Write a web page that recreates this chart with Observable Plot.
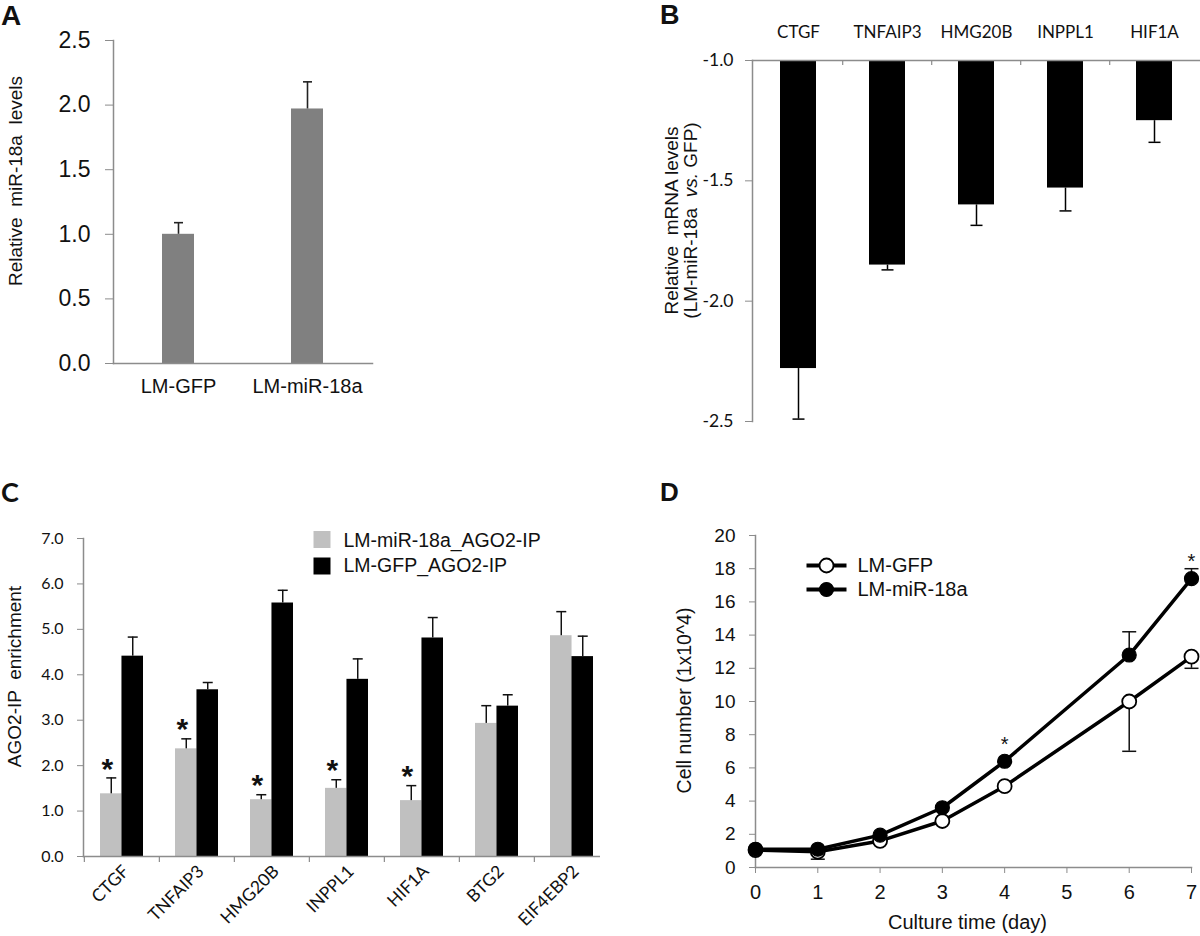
<!DOCTYPE html>
<html><head><meta charset="utf-8">
<script src="https://cdn.jsdelivr.net/npm/d3@7"></script>
<script src="https://cdn.jsdelivr.net/npm/@observablehq/plot@0.6"></script>
<style>
html,body{margin:0;padding:0;background:#fff;}
#fig{position:relative;width:1200px;height:936px;overflow:hidden;background:#fff;}
.panel{position:absolute;width:600px;}
.letter{position:absolute;font-weight:bold;line-height:1.15;color:#111;}
</style></head><body>
<div id="fig">
  <div class="panel" id="pA" style="left:0;top:0"></div>
  <div class="panel" id="pB" style="left:600px;top:0"></div>
  <div class="panel" id="pC" style="left:0;top:440px"></div>
  <div class="panel" id="pD" style="left:600px;top:440px"></div>
  <div class="letter" style="left:1px;top:0px;font-size:28px;font-family:'Liberation Sans',Arial,sans-serif">A</div>
  <div class="letter" style="left:660px;top:0px;font-size:27px;font-family:'Liberation Sans',Arial,sans-serif">B</div>
  <div class="letter" style="left:1px;top:476px;font-size:27px;font-family:Lato,sans-serif">C</div>
  <div class="letter" style="left:660px;top:478px;font-size:26px;font-family:'Liberation Sans',Arial,sans-serif">D</div>
</div>
<script>
// ---------------- DATA ----------------
// Panel A
const aGroups = ["LM-GFP", "LM-miR-18a"];
const aMeans = [1.00, 1.97];
const aErrs = [0.09, 0.21];
const aTicks = [0, 0.5, 1.0, 1.5, 2.0, 2.5];
const aTitle = "Relative  miR-18a  levels";

// Panel B
const bGenes = ["CTGF", "TNFAIP3", "HMG20B", "INPPL1", "HIF1A"];
const bMeans = [-2.28, -1.85, -1.60, -1.53, -1.25];
const bErrs = [0.21, 0.02, 0.085, 0.095, 0.09];
const bBase = -1.0;
const bTicks = [-1.0, -1.5, -2.0, -2.5];
const bTitle1 = "Relative  mRNA levels";
const bTitle2 = "(LM-miR-18a  vs. GFP)";

// Panel C
const cGenes = ["CTGF", "TNFAIP3", "HMG20B", "INPPL1", "HIF1A", "BTG2", "EIF4EBP2"];
const cSeries = ["LM-miR-18a_AGO2-IP", "LM-GFP_AGO2-IP"];
const cMir = [1.38, 2.37, 1.25, 1.50, 1.23, 2.93, 4.86];
const cMirErr = [0.35, 0.22, 0.11, 0.19, 0.33, 0.39, 0.53];
const cGfp = [4.41, 3.67, 5.58, 3.90, 4.81, 3.31, 4.40];
const cGfpErr = [0.42, 0.16, 0.28, 0.45, 0.45, 0.25, 0.45];
const cSig = [true, true, true, true, true, false, false];
const cTicks = [0, 1, 2, 3, 4, 5, 6, 7];
const cTitle = "AGO2-IP  enrichment";

// Panel D
const dSeries = ["LM-GFP", "LM-miR-18a"];
const dDays = [0, 1, 2, 3, 4, 6, 7];
const dGfp = [1.05, 0.95, 1.6, 2.8, 4.9, 10.0, 12.7];
const dGfpErr = [0, 0.45, 0, 0, 0, 3.0, 0.7];
const dMir = [1.1, 1.1, 1.95, 3.6, 6.4, 12.8, 17.4];
const dMirErr = [0, 0, 0, 0, 0, 1.4, 0.6];
const dSigDays = [4, 7];
const dXTicks = [0, 1, 2, 3, 4, 5, 6, 7];
const dYTicks = [0, 2, 4, 6, 8, 10, 12, 14, 16, 18, 20];
const dXTitle = "Culture time (day)";
const dYTitle = "Cell number (1x10^4)";

// ---------------- STYLE ----------------
const W = 600;
const ink = "#111";
const axisGray = "#8c8c8c";
const ARIAL = "'Liberation Sans', Arial, sans-serif";
const CALI = "Lato, 'Open Sans', sans-serif";
function cap(half) { return {draw(ctx) { ctx.moveTo(-half, 0); ctx.lineTo(half, 0); }}; }
function square(side) { const h = side / 2; return {draw(ctx) { ctx.moveTo(-h, -h); ctx.lineTo(h, -h); ctx.lineTo(h, h); ctx.lineTo(-h, h); ctx.closePath(); }}; }
const vtitle = {frameAnchor: "left", rotate: -90, textAnchor: "middle", lineAnchor: "middle", fill: ink, text: d => d};

// ---------------- PANEL A ----------------
const aData = aGroups.map((g, i) => ({g, v: aMeans[i], hi: aMeans[i] + aErrs[i]}));
const plotA = Plot.plot({
  width: W, height: 440, marginLeft: 113, marginRight: 228, marginTop: 40, marginBottom: 77,
  style: {fontFamily: ARIAL, color: ink},
  x: {domain: aGroups, paddingInner: 0.75, paddingOuter: 0.375},
  y: {domain: [0, 2.5]},
  marks: [
    Plot.barY(aData, {x: "g", y: "v", fill: "#808080"}),
    Plot.ruleX(aData, {x: "g", y1: "v", y2: "hi", stroke: "#222", strokeWidth: 1.6}),
    Plot.dot(aData, {x: "g", y: "hi", symbol: cap(4.5), stroke: "#222", strokeWidth: 1.6, fill: "none"}),
    Plot.frame({anchor: "left", stroke: axisGray, strokeWidth: 1.5}),
    Plot.frame({anchor: "bottom", stroke: axisGray, strokeWidth: 1.5}),
    Plot.axisY({ticks: aTicks, tickFormat: d => d.toFixed(1), tickSize: 8, tickPadding: 15, stroke: axisGray, fill: ink, fontSize: 23, label: null}),
    Plot.axisX({tickSize: 0, tickPadding: 15, fill: ink, fontSize: 20, label: null}),
    Plot.text([aTitle], {...vtitle, dx: -98, dy: -21, fontSize: 19})
  ]
});
document.getElementById("pA").append(plotA);

// ---------------- PANEL B ----------------
const bData = bGenes.map((g, i) => ({g, v: bMeans[i], lo: bMeans[i] - bErrs[i]}));
const bML = 152, bMT = 60, bMB = 19, bH = 440;
const bStep = (W - bML) / bGenes.length;
const plotB = Plot.plot({
  width: W, height: bH, marginLeft: bML, marginRight: 0, marginTop: bMT, marginBottom: bMB,
  style: {fontFamily: ARIAL, color: ink},
  x: {domain: bGenes, paddingInner: 0.6, paddingOuter: 0.3},
  y: {domain: [-2.5, -1]},
  marks: [
    Plot.barY(bData, {x: "g", y1: () => bBase, y2: "v", fill: "#000"}),
    Plot.ruleX(bData, {x: "g", y1: "v", y2: "lo", stroke: "#000", strokeWidth: 1.5}),
    Plot.dot(bData, {x: "g", y: "lo", symbol: cap(6), stroke: "#000", strokeWidth: 1.5, fill: "none"}),
    Plot.frame({anchor: "top", stroke: axisGray, strokeWidth: 1.5}),
    Plot.frame({anchor: "left", stroke: axisGray, strokeWidth: 1.5}),
    Plot.ruleX(bGenes.slice(1), {x: d => d, dx: -bStep / 2, insetBottom: bH - bMT - bMB - 5, stroke: axisGray, strokeWidth: 1.2}),
    Plot.axisY({ticks: bTicks, tickFormat: d => d.toFixed(1), tickSize: 7, tickPadding: 12, stroke: axisGray, fill: ink, fontSize: 17.5, fontFamily: CALI, label: null}),
    Plot.axisX({anchor: "top", tickSize: 0, tickPadding: 23, fill: ink, fontSize: 17, fontFamily: CALI, label: null}),
    Plot.text([bTitle1], {...vtitle, dx: -81, dy: -20.5, fontSize: 19}),
    Plot.text([bTitle2], {...vtitle, dx: -62, dy: -20.5, fontSize: 19})
  ]
});
plotB.querySelectorAll("text").forEach(t => {
  if (t.textContent === bTitle2) {
    const parts = bTitle2.split("vs.");
    t.textContent = "";
    const ns = "http://www.w3.org/2000/svg";
    const s1 = document.createElementNS(ns, "tspan"); s1.textContent = parts[0];
    const s2 = document.createElementNS(ns, "tspan"); s2.textContent = "vs."; s2.setAttribute("font-style", "italic");
    const s3 = document.createElementNS(ns, "tspan"); s3.textContent = parts[1];
    t.append(s1, s2, s3);
  }
});
document.getElementById("pB").append(plotB);

// ---------------- PANEL C ----------------
const cData = cGenes.map((g, i) => ({g, mir: cMir[i], mirTop: cMir[i] + cMirErr[i], gfp: cGfp[i], gfpTop: cGfp[i] + cGfpErr[i], sig: cSig[i]}));
const cL = 83, cR = 610, cMT = 98, cMB = 80, cH = 496;
const cPadIn = 0.43, cPadOut = 0.215;
const cStep = (cR - cL) / cGenes.length;
const cBw = cStep * (1 - cPadIn);
const plotC = Plot.plot({
  width: W, height: cH, marginLeft: cL, marginRight: 0, marginTop: cMT, marginBottom: cMB,
  style: {fontFamily: ARIAL, color: ink},
  x: {domain: cGenes, range: [cL, cR], paddingInner: cPadIn, paddingOuter: cPadOut},
  y: {domain: [0, 7]},
  marks: [
    Plot.barY(cData, {x: "g", y: "mir", fill: "#c0c0c0", insetRight: cBw / 2}),
    Plot.barY(cData, {x: "g", y: "gfp", fill: "#000", insetLeft: cBw / 2}),
    Plot.ruleX(cData, {x: "g", y1: "mir", y2: "mirTop", dx: -cBw / 4, stroke: "#111", strokeWidth: 1.5}),
    Plot.dot(cData, {x: "g", y: "mirTop", dx: -cBw / 4, symbol: cap(5), stroke: "#111", strokeWidth: 1.5, fill: "none"}),
    Plot.ruleX(cData, {x: "g", y1: "gfp", y2: "gfpTop", dx: cBw / 4, stroke: "#111", strokeWidth: 1.5}),
    Plot.dot(cData, {x: "g", y: "gfpTop", dx: cBw / 4, symbol: cap(5), stroke: "#111", strokeWidth: 1.5, fill: "none"}),
    Plot.text(cData.filter(d => d.sig), {x: "g", y: "mirTop", dx: -cBw / 4 - 4, dy: -9, text: () => "*", fontSize: 30, fontWeight: "bold", fill: ink}),
    Plot.frame({anchor: "left", stroke: axisGray, strokeWidth: 1.5}),
    Plot.frame({anchor: "bottom", stroke: axisGray, strokeWidth: 1.5}),
    Plot.ruleX(cGenes, {x: d => d, dx: -cStep / 2, insetTop: cH - cMT - cMB, insetBottom: -6, stroke: axisGray, strokeWidth: 1.2}),
    Plot.axisY({ticks: cTicks, tickFormat: d => d.toFixed(1), tickSize: 6, tickPadding: 14, stroke: axisGray, fill: ink, fontSize: 16, fontFamily: CALI, label: null}),
    Plot.axisX({tickSize: 0, tickRotate: -45, tickPadding: 12, dx: 4, fill: ink, fontSize: 17.5, fontFamily: CALI, label: null}),
    Plot.dot([cSeries[0]], {frameAnchor: "top-left", dx: 238.5, dy: 1, symbol: square(17), fill: "#c0c0c0", stroke: "none"}),
    Plot.dot([cSeries[1]], {frameAnchor: "top-left", dx: 238.5, dy: 27.5, symbol: square(17), fill: "#000", stroke: "none"}),
    Plot.text([cSeries[0]], {frameAnchor: "top-left", dx: 260, dy: 2, textAnchor: "start", lineAnchor: "middle", fontSize: 19.5, fill: ink, text: d => d}),
    Plot.text([cSeries[1]], {frameAnchor: "top-left", dx: 260, dy: 27, textAnchor: "start", lineAnchor: "middle", fontSize: 19.5, fill: ink, text: d => d}),
    Plot.text([cTitle], {...vtitle, dx: -69, dy: -21, fontSize: 19})
  ]
});
document.getElementById("pC").append(plotC);

// ---------------- PANEL D ----------------
const gfpData = dDays.map((d, i) => ({day: d, v: dGfp[i], e: dGfpErr[i], lo: dGfp[i] - dGfpErr[i]}));
const mirData = dDays.map((d, i) => ({day: d, v: dMir[i], e: dMirErr[i], hi: dMir[i] + dMirErr[i]}));
const plotD = Plot.plot({
  width: W, height: 496, marginLeft: 155, marginRight: 9, marginTop: 95, marginBottom: 69,
  style: {fontFamily: ARIAL, color: ink},
  x: {domain: [0, 7]},
  y: {domain: [0, 20]},
  marks: [
    Plot.frame({anchor: "left", stroke: axisGray, strokeWidth: 1.5}),
    Plot.frame({anchor: "bottom", stroke: axisGray, strokeWidth: 1.5}),
    Plot.axisY({ticks: dYTicks, tickSize: 6, tickPadding: 14, stroke: axisGray, fill: ink, fontSize: 19, label: null}),
    Plot.axisX({ticks: dXTicks, tickFormat: d => String(d), tickSize: 6, tickPadding: 11, stroke: axisGray, fill: ink, fontSize: 20, label: null}),
    Plot.text([dXTitle], {frameAnchor: "bottom", textAnchor: "middle", lineAnchor: "middle", dx: -6, dy: 55, fontSize: 20, fill: ink, text: d => d}),
    Plot.text([dYTitle], {...vtitle, dx: -71, dy: -1, fontSize: 19.5}),
    Plot.ruleX(gfpData.filter(d => d.e > 0), {x: "day", y1: "v", y2: "lo", stroke: "#111", strokeWidth: 1.5}),
    Plot.dot(gfpData.filter(d => d.e > 0), {x: "day", y: "lo", symbol: cap(7), stroke: "#111", strokeWidth: 1.5, fill: "none"}),
    Plot.ruleX(mirData.filter(d => d.e > 0), {x: "day", y1: "v", y2: "hi", stroke: "#111", strokeWidth: 1.5}),
    Plot.dot(mirData.filter(d => d.e > 0), {x: "day", y: "hi", symbol: cap(7), stroke: "#111", strokeWidth: 1.5, fill: "none"}),
    Plot.line(gfpData, {x: "day", y: "v", stroke: "#000", strokeWidth: 3.5}),
    Plot.line(mirData, {x: "day", y: "v", stroke: "#000", strokeWidth: 3.5}),
    Plot.dot(gfpData, {x: "day", y: "v", r: 7, fill: "#fff", stroke: "#000", strokeWidth: 1.8}),
    Plot.dot(mirData, {x: "day", y: "v", r: 7, fill: "#000", stroke: "#000", strokeWidth: 1.2}),
    Plot.text(mirData.filter(d => dSigDays.includes(d.day)), {x: "day", y: "v", dy: -17, text: () => "*", fontSize: 20, fill: ink}),
    // legend
    Plot.dot([dSeries[0]], {frameAnchor: "top-left", dx: 71, dy: 30, symbol: cap(20), stroke: "#000", strokeWidth: 4, fill: "none"}),
    Plot.dot([dSeries[0]], {frameAnchor: "top-left", dx: 71, dy: 30, r: 7, fill: "#fff", stroke: "#000", strokeWidth: 1.8}),
    Plot.text([dSeries[0]], {frameAnchor: "top-left", dx: 102, dy: 30, textAnchor: "start", lineAnchor: "middle", fontSize: 20, fill: ink, text: d => d}),
    Plot.dot([dSeries[1]], {frameAnchor: "top-left", dx: 71, dy: 54, symbol: cap(20), stroke: "#000", strokeWidth: 4, fill: "none"}),
    Plot.dot([dSeries[1]], {frameAnchor: "top-left", dx: 71, dy: 54, r: 7, fill: "#000", stroke: "#000", strokeWidth: 1.2}),
    Plot.text([dSeries[1]], {frameAnchor: "top-left", dx: 102, dy: 54, textAnchor: "start", lineAnchor: "middle", fontSize: 20, fill: ink, text: d => d})
  ]
});
document.getElementById("pD").append(plotD);
</script>
</body></html>
